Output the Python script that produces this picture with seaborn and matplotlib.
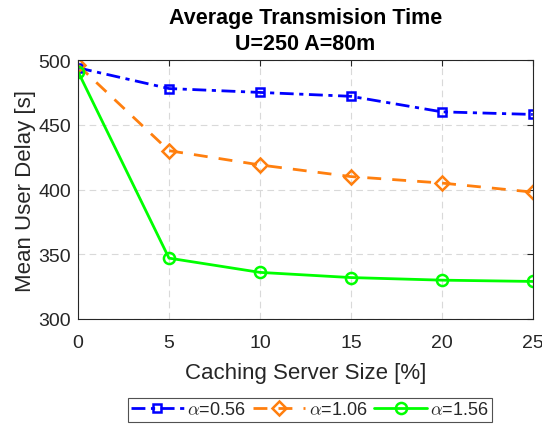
import pandas as pd
import matplotlib
matplotlib.use("Agg")
import matplotlib.pyplot as plt
import seaborn as sns

# data
cache_size = [0, 5, 10, 15, 20, 25]
delay_056 = [494, 478, 475, 472, 460, 458]
delay_106 = [496, 430, 419, 410, 405, 398]
delay_156 = [491, 347, 336, 332, 330, 329]
labels = [r'$\alpha$=0.56', r'$\alpha$=1.06', r'$\alpha$=1.56']

df = pd.DataFrame({
    'size': cache_size * 3,
    'delay': delay_056 + delay_106 + delay_156,
    'series': [labels[0]] * 6 + [labels[1]] * 6 + [labels[2]] * 6,
})

sns.set_style("whitegrid")
plt.rcParams['font.family'] = ['Liberation Sans', 'DejaVu Sans']
plt.rcParams['mathtext.fontset'] = 'cm'

fig = plt.figure(figsize=(5.42, 4.27), dpi=100)
ax = fig.add_axes([0.144, 0.2506, 0.839, 0.6064])

colors = {labels[0]: '#0000ff', labels[1]: '#ff7f0e', labels[2]: '#00ff00'}
markers = {labels[0]: 's', labels[1]: 'D', labels[2]: 'o'}
sizes = {labels[0]: 6, labels[1]: 7, labels[2]: 8}
styles = {labels[0]: (0, (5, 2, 1.5, 2)), labels[1]: (0, (5, 4)), labels[2]: '-'}

for lab in labels:
    sub = df[df['series'] == lab]
    sns.lineplot(data=sub, x='size', y='delay', ax=ax, color=colors[lab],
                 marker=markers[lab], markersize=sizes[lab],
                 markerfacecolor='none', markeredgecolor=colors[lab],
                 markeredgewidth=1.8, linewidth=2, linestyle=styles[lab],
                 label=lab)

ax.set_xlim(0, 25)
ax.set_ylim(300, 500)
ax.set_xticks([0, 5, 10, 15, 20, 25])
ax.set_yticks([300, 350, 400, 450, 500])
ax.grid(True, color='#d9d9d9', linestyle=(0, (6, 4)), linewidth=0.8)
for s in ax.spines.values():
    s.set_color('#262626')
    s.set_linewidth(0.8)
ax.tick_params(direction='in', top=True, right=True, length=4, labelsize=14,
               colors='#262626', width=0.8)
ax.tick_params(axis='x', pad=11)
ax.tick_params(axis='y', pad=5)

ax.set_xlabel('Caching Server Size [%]', fontsize=16, color='#262626', labelpad=7.5)
ax.set_ylabel('Mean User Delay [s]', fontsize=16, color='#262626', labelpad=2)
ax.set_title('Average Transmision Time\nU=250 A=80m', fontsize=15.5,
             fontweight='bold', color='black', linespacing=1.3, pad=8)

leg = ax.legend(loc='center', bbox_to_anchor=(0.51, -0.351),
                ncol=3, frameon=True, fancybox=False, fontsize=13,
                handlelength=2.9, columnspacing=0.4, handletextpad=0.2,
                borderpad=0.2, borderaxespad=0, edgecolor='#262626')
leg.get_frame().set_linewidth(0.8)

fig.savefig("out.png", dpi=100)
